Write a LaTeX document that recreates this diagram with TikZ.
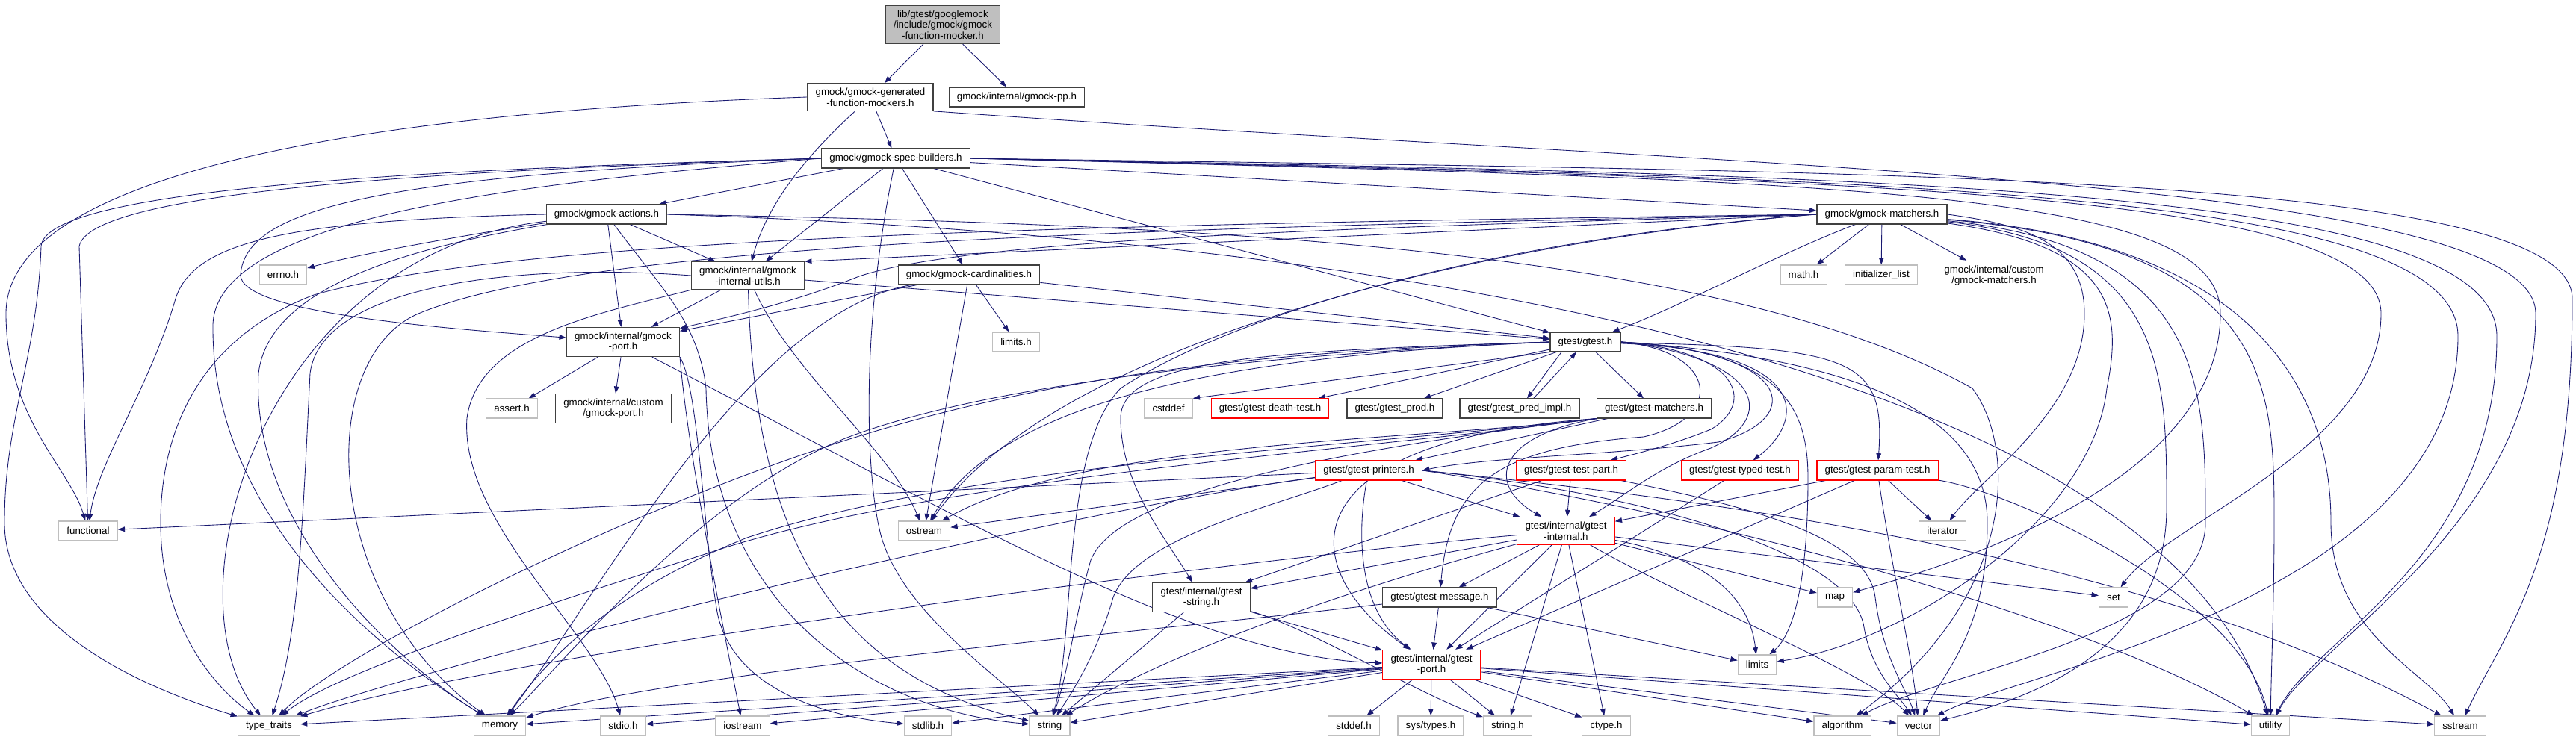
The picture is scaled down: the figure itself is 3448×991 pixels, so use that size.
\documentclass[tikz,border=0pt]{standalone}
\usepackage{fontspec}
\setmainfont{Liberation Sans}
\usetikzlibrary{arrows.meta,backgrounds}
\definecolor{edgeblue}{HTML}{191970}
\definecolor{sysgray}{HTML}{BFBFBF}

\begin{document}
\begin{tikzpicture}[x=0.75pt, y=0.75pt,
	every node/.style={font=\fontsize{10}{10.9}\selectfont, align=center, inner xsep=8pt, inner ysep=4.6pt, minimum height=19.5pt, line width=0.85pt, fill=white},
	hdr/.style={draw=black!75},
	sys/.style={draw=sysgray},
	trunc/.style={draw=red},
	rootbox/.style={draw=black!75, fill=sysgray},
	dep/.style={draw=edgeblue, line width=0.65pt, -{Triangle[length=7pt, width=5pt]}}]
	\useasboundingbox (0,0) rectangle (3448,-991);

	% headers
	\node[rootbox] (root) at (1262,-33) {lib/gtest/googlemock\\/include/gmock/gmock\\-function-mocker.h};
	\node[hdr] (genmock) at (1165,-130) {gmock/gmock-generated\\-function-mockers.h};
	\node[hdr] (gmockpp) at (1361,-130) {gmock/internal/gmock-pp.h};
	\node[hdr] (specb) at (1199,-212) {gmock/gmock-spec-builders.h};
	\node[hdr] (actions) at (812,-287) {gmock/gmock-actions.h};
	\node[hdr] (matchers) at (2519,-287) {gmock/gmock-matchers.h};
	\node[hdr] (iutils) at (1001,-369) {gmock/internal/gmock\\-internal-utils.h};
	\node[hdr] (card) at (1297,-368) {gmock/gmock-cardinalities.h};
	\node[sys] (errno) at (379,-368) {errno.h};
	\node[sys] (limitsh) at (1360,-458) {limits.h};
	\node[sys] (mathh) at (2414,-368) {math.h};
	\node[sys] (initlist) at (2518,-368) {initializer\_list};
	\node[hdr] (custmatch) at (2669,-369) {gmock/internal/custom\\/gmock-matchers.h};
	\node[hdr] (gport) at (834,-458) {gmock/internal/gmock\\-port.h};
	\node[hdr] (gtest) at (2122,-458) {gtest/gtest.h};
	\node[sys] (asserth) at (685,-547) {assert.h};
	\node[hdr] (custport) at (821,-547) {gmock/internal/custom\\/gmock-port.h};
	\node[sys] (cstddef) at (1564,-547) {cstddef};
	\node[trunc] (death) at (1700,-547) {gtest/gtest-death-test.h};
	\node[hdr] (prod) at (1867,-547) {gtest/gtest\_prod.h};
	\node[hdr] (predimpl) at (2034,-547) {gtest/gtest\_pred\_impl.h};
	\node[hdr] (gtmatch) at (2214,-547) {gtest/gtest-matchers.h};
	\node[sys] (functional) at (118,-711) {functional};
	\node[sys] (ostream) at (1237,-711) {ostream};
	\node[trunc] (printers) at (1832,-630) {gtest/gtest-printers.h};
	\node[trunc] (testpart) at (2103,-630) {gtest/gtest-test-part.h};
	\node[trunc] (typed) at (2329,-630) {gtest/gtest-typed-test.h};
	\node[trunc] (param) at (2513,-630) {gtest/gtest-param-test.h};
	\node[sys] (iterator) at (2600,-711) {iterator};
	\node[trunc] (ginternal) at (2096,-711) {gtest/internal/gtest\\-internal.h};
	\node[hdr] (gstring) at (1608,-800) {gtest/internal/gtest\\-string.h};
	\node[hdr] (message) at (1927,-800) {gtest/gtest-message.h};
	\node[sys] (map) at (2456,-800) {map};
	\node[sys] (set) at (2829,-800) {set};
	\node[trunc] (gtport) at (1916,-890) {gtest/internal/gtest\\-port.h};
	\node[sys] (limits) at (2352,-890) {limits};
	\foreach \n/\x/\lbl in {typetraits/360/type\_traits, memory/669/memory, stdioh/834/stdio.h, iostream/994/iostream, stdlibh/1242/stdlib.h, string/1405/string, stddefh/1812/stddef.h, systypes/1915/{sys/types.h}, stringh/2018/string.h, ctypeh/2150/ctype.h, algorithm/2466/algorithm, vector/2568/vector, utility/3039/utility, sstream/3293/sstream}
		\node[sys] (\n) at (\x,-972) {\lbl};

	\begin{pgfonlayer}{background}
	% straight includes
	\foreach \a/\b in {root/genmock, root/gmockpp, genmock/specb, specb/actions, specb/iutils, specb/card, specb/gtest, specb/matchers, actions/iutils, actions/gport, matchers/mathh, matchers/initlist, matchers/custmatch, iutils/gport, iutils/gtest, card/limitsh, card/gtest, card/gport, card/ostream, gport/asserth, gport/custport, gtest/death, gtest/prod, gtest/gtmatch, gtmatch/printers, printers/functional, printers/ostream, printers/ginternal, testpart/ginternal, testpart/gstring, typed/gtport, param/iterator, param/ginternal, param/gtport, ginternal/message, ginternal/gtport, ginternal/stringh, ginternal/ctypeh, ginternal/map, ginternal/set, ginternal/gstring, message/gtport, message/limits, gstring/gtport, gstring/string, gtport/stddefh, gtport/systypes, gtport/stringh, gtport/ctypeh, gtport/algorithm, gtport/vector, gtport/utility, gtport/sstream, gtport/string, gtport/stdlibh, gtport/iostream, gtport/stdioh, gtport/memory, gtport/typetraits}
		\draw[dep] (\a) -- (\b);
	\draw[dep] (matchers.west) -- (iutils.north east);
	\draw[dep] (gtest.south west) -- (cstddef.north east);

	% gmock-generated-function-mockers.h
	\draw[dep] (genmock) .. controls (1100,-190) and (1030,-260) .. (iutils);
	\draw[dep] (genmock.west) .. controls (500,-150) and (8,-230) .. (8,-420) .. controls (8,-560) and (95,-630) .. (functional);
	\draw[dep] (genmock.south east) .. controls (2300,-225) and (3394,-235) .. (3394,-420) .. controls (3394,-700) and (3100,-860) .. (utility);

	% gmock-spec-builders.h
	\draw[dep] (specb.west) .. controls (600,-228) and (120,-255) .. (106,-330) -- (functional);
	\draw[dep] (specb.west) .. controls (600,-226) and (60,-250) .. (55,-330) .. controls (50,-480) and (6,-560) .. (6,-700) .. controls (6,-850) and (220,-930) .. (typetraits);
	\draw[dep] (specb.west) .. controls (500,-235) and (330,-280) .. (322,-367) .. controls (318,-420) and (600,-440) .. (gport);
	\draw[dep] (specb.west) .. controls (700,-245) and (280,-290) .. (285,-440) .. controls (285,-700) and (520,-880) .. (memory);
	\draw[dep] (specb) .. controls (1150,-450) and (1160,-650) .. (1180,-720) .. controls (1210,-820) and (1330,-900) .. (string);
	\draw[dep] (specb.east) .. controls (2500,-230) and (3443,-230) .. (3443,-400) .. controls (3443,-750) and (3350,-850) .. (sstream);
	\draw[dep] (specb.east) .. controls (2500,-235) and (3342,-245) .. (3342,-450) .. controls (3342,-750) and (3100,-850) .. (utility);
	\draw[dep] (specb.east) .. controls (2500,-238) and (3290,-250) .. (3290,-450) .. controls (3290,-800) and (2700,-900) .. (vector);
	\draw[dep] (specb.east) .. controls (2500,-240) and (3187,-255) .. (3187,-420) .. controls (3187,-600) and (2900,-700) .. (set);
	\draw[dep] (specb.east) .. controls (2500,-242) and (2972,-255) .. (2972,-420) .. controls (2972,-650) and (2600,-760) .. (map);

	% gmock-actions.h
	\draw[dep] (actions) .. controls (650,-310) and (480,-340) .. (errno);
	\draw[dep] (actions.west) .. controls (400,-295) and (260,-320) .. (235,-400) .. controls (200,-520) and (130,-620) .. (functional);
	\draw[dep] (actions) .. controls (350,-340) and (220,-800) .. (typetraits);
	\draw[dep] (actions) .. controls (560,-330) and (360,-380) .. (346,-500) .. controls (335,-700) and (520,-880) .. (memory);
	\draw[dep] (actions) .. controls (880,-380) and (935,-430) .. (945,-520) .. controls (950,-800) and (1150,-950) .. (string);
	\draw[dep] (actions.east) .. controls (1600,-300) and (2300,-330) .. (2640,-520) .. controls (2700,-600) and (2700,-800) .. (algorithm);
	\draw[dep] (actions.east) .. controls (1900,-320) and (2900,-500) .. (utility);

	% gmock-matchers.h
	\draw[dep] (matchers) .. controls (2380,-340) and (2250,-410) .. (gtest);
	\draw[dep] (matchers.west) .. controls (1800,-305) and (1300,-320) .. (1150,-370) .. controls (1050,-410) and (950,-430) .. (gport);
	\draw[dep] (matchers.west) .. controls (1900,-330) and (1400,-480) .. (ostream);
	\draw[dep] (matchers.west) .. controls (1600,-305) and (800,-320) .. (560,-420) .. controls (420,-480) and (430,-800) .. (memory);
	\draw[dep] (matchers.west) .. controls (1500,-300) and (700,-315) .. (420,-395) .. controls (250,-460) and (215,-600) .. (215,-700) .. controls (215,-850) and (300,-930) .. (typetraits);
	\draw[dep] (matchers.west) .. controls (2000,-320) and (1650,-420) .. (1500,-520) .. controls (1420,-600) and (1440,-850) .. (string);
	\draw[dep] (matchers.east) .. controls (2700,-300) and (2790,-320) .. (2790,-420) .. controls (2790,-550) and (2650,-640) .. (iterator);
	\draw[dep] (matchers) .. controls (2834,-330) and (2840,-420) .. (2820,-520) .. controls (2800,-700) and (2550,-860) .. (limits);
	\draw[dep] (matchers) .. controls (2900,-330) and (2900,-500) .. (2900,-680) .. controls (2900,-880) and (2700,-940) .. (vector);
	\draw[dep] (matchers) .. controls (2952,-330) and (2952,-520) .. (2952,-700) .. controls (2952,-850) and (2600,-900) .. (algorithm);
	\draw[dep] (matchers) .. controls (3044,-330) and (3044,-520) .. (3044,-700) .. controls (3044,-800) and (3040,-900) .. (utility);
	\draw[dep] (matchers) .. controls (3092,-330) and (3120,-600) .. (3120,-700) .. controls (3120,-850) and (3250,-900) .. (sstream);

	% gmock-internal-utils.h, gmock-cardinalities.h, gmock-port.h
	\draw[dep] (iutils) .. controls (1060,-500) and (1190,-600) .. (ostream);
	\draw[dep] (iutils) .. controls (1010,-700) and (1100,-900) .. (string);
	\draw[dep] (iutils.west) .. controls (700,-352) and (430,-380) .. (415,-500) .. controls (405,-700) and (400,-850) .. (typetraits);
	\draw[dep] (iutils) .. controls (800,-420) and (640,-450) .. (625,-560) .. controls (615,-700) and (800,-850) .. (stdioh);
	\draw[dep] (card) .. controls (1000,-420) and (800,-800) .. (memory);
	\draw[dep] (gport.south east) .. controls (935,-520) and (940,-700) .. (960,-820) .. controls (980,-920) and (1100,-960) .. (stdlibh);
	\draw[dep] (gport.south east) .. controls (920,-600) and (960,-800) .. (iostream);
	\draw[dep] (gport) .. controls (1300,-700) and (1600,-880) .. (gtport);

	% gtest.h
	\draw[dep] ([xshift=-24pt]gtest.south) -- ([xshift=7.5pt]predimpl.north);
	\draw[dep] ([xshift=14pt]predimpl.north) -- ([xshift=-9pt]gtest.south);
	\draw[dep] (gtest.west) .. controls (1700,-475) and (1350,-520) .. (ostream);
	\draw[dep] (gtest.west) .. controls (1700,-475) and (1350,-510) .. (1150,-580) .. controls (950,-650) and (760,-880) .. (memory);
	\draw[dep] (gtest.west) .. controls (1700,-470) and (1400,-500) .. (1100,-600) .. controls (800,-700) and (450,-880) .. (typetraits);
	\draw[dep] (gtest.west) .. controls (1700,-470) and (1500,-480) .. (1500,-560) .. controls (1500,-650) and (1560,-720) .. (gstring);
	\draw[dep] (gtest.east) .. controls (2400,-470) and (2420,-560) .. (2300,-592) .. controls (2150,-610) and (1990,-612) .. (printers.east);
	\draw[dep] (gtest.east) .. controls (2330,-470) and (2350,-540) .. (2290,-575) .. controls (2240,-595) and (2200,-605) .. (testpart);
	\draw[dep] (gtest.east) .. controls (2360,-480) and (2380,-560) .. (2290,-600) .. controls (2220,-625) and (2180,-660) .. (ginternal);
	\draw[dep] (gtest) .. controls (2420,-470) and (2420,-560) .. (typed);
	\draw[dep] (gtest) .. controls (2480,-465) and (2524,-480) .. (param);
	\draw[dep] (gtest.east) .. controls (2300,-470) and (2310,-560) .. (2200,-585) .. controls (2000,-600) and (1940,-650) .. (message);
	\draw[dep] (gtest.east) .. controls (2380,-470) and (2420,-540) .. (2420,-640) .. controls (2420,-780) and (2400,-850) .. (limits);
	\draw[dep] (gtest.east) .. controls (2500,-480) and (2660,-560) .. (2660,-700) .. controls (2660,-850) and (2600,-900) .. (vector);

	% gtest-matchers.h, gtest-printers.h
	\draw[dep] (gtmatch.south west) .. controls (2000,-585) and (1990,-650) .. (ginternal);
	\draw[dep] (gtmatch.south west) .. controls (1720,-590) and (1730,-760) .. (gtport);
	\draw[dep] (gtmatch.south west) .. controls (1900,-590) and (1450,-590) .. (ostream);
	\draw[dep] (gtmatch.south west) .. controls (1850,-595) and (1500,-650) .. (1460,-750) .. controls (1440,-820) and (1430,-900) .. (string);
	\draw[dep] (gtmatch.south west) .. controls (1800,-600) and (1300,-620) .. (1000,-720) .. controls (800,-800) and (720,-900) .. (memory);
	\draw[dep] (gtmatch.south west) .. controls (1800,-605) and (1250,-640) .. (950,-740) .. controls (700,-820) and (450,-900) .. (typetraits);
	\draw[dep] (printers) .. controls (1815,-720) and (1820,-820) .. (gtport);
	\draw[dep] (printers) .. controls (1700,-680) and (1520,-720) .. (1490,-800) .. controls (1470,-870) and (1440,-920) .. (string);
	\draw[dep] (printers) .. controls (1450,-680) and (600,-880) .. (typetraits);
	\draw[dep] (printers.east) .. controls (2400,-680) and (2900,-760) .. (sstream);
	\draw[dep] (printers.east) .. controls (2300,-690) and (2800,-830) .. (utility);
	\draw[dep] (printers.east) .. controls (2200,-660) and (2480,-740) .. (2495,-840) .. controls (2505,-900) and (2540,-930) .. (vector);

	% the rest
	\draw[dep] (testpart) .. controls (2350,-680) and (2500,-720) .. (2510,-800) .. controls (2520,-880) and (2550,-920) .. (vector);
	\draw[dep] (param) .. controls (2530,-750) and (2560,-880) .. (vector);
	\draw[dep] (param) .. controls (2700,-660) and (3000,-800) .. (utility);
	\draw[dep] (ginternal) .. controls (2250,-800) and (2500,-900) .. (vector);
	\draw[dep] (ginternal) .. controls (2250,-740) and (2340,-780) .. (limits);
	\draw[dep] (ginternal) .. controls (1700,-745) and (700,-870) .. (typetraits);
	\draw[dep] (ginternal) .. controls (1800,-790) and (1550,-880) .. (string);
	\draw[dep] (message) .. controls (1500,-850) and (900,-900) .. (memory);
	\draw[dep] (gstring) .. controls (1750,-840) and (1900,-930) .. (stringh);
	\end{pgfonlayer}
\end{tikzpicture}
\end{document}
